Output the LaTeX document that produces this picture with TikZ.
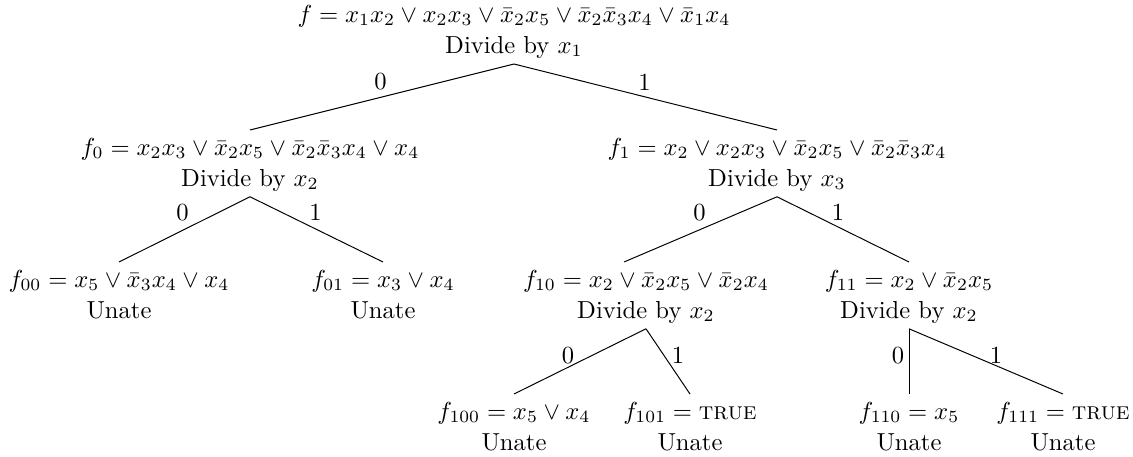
\documentclass[tikz,border=0pt]{standalone}
\usetikzlibrary{calc}
\newcommand{\topstrut}{\rule{0pt}{7.9pt}}
\begin{document}
\begin{tikzpicture}[x=0.4065pt,y=-0.4065pt,
  tn/.style={align=center, inner xsep=0pt, inner ysep=2.1pt, anchor=north},
  lbl/.style={inner sep=0pt, anchor=center},
  edge/.style={line width=0.4pt}]
\useasboundingbox (0,0) rectangle (1133,456);
% nodes
\node[tn, anchor=south] (root) at (514,64) {\topstrut$f = x_1x_2 \vee x_2x_3 \vee \bar{x}_2x_5 \vee \bar{x}_2\bar{x}_3x_4 \vee \bar{x}_1x_4$\\[0.6pt] Divide by $x_1$};
\node[tn] (f0) at (250,130) {\topstrut$f_0 = x_2x_3 \vee \bar{x}_2x_5 \vee \bar{x}_2\bar{x}_3x_4 \vee x_4$\\[0.6pt] Divide by $x_2$};
\node[tn] (f1) at (777,130) {\topstrut$f_1 = x_2 \vee x_2x_3 \vee \bar{x}_2x_5 \vee \bar{x}_2\bar{x}_3x_4$\\[0.6pt] Divide by $x_3$};
\node[tn] (f00) at (119,262) {\topstrut$f_{00} = x_5 \vee \bar{x}_3x_4 \vee x_4$\\[0.6pt] Unate};
\node[tn] (f01) at (383,262) {\topstrut$f_{01} = x_3 \vee x_4$\\[0.6pt] Unate};
\node[tn] (f10) at (646,262) {\topstrut$f_{10} = x_2 \vee \bar{x}_2x_5 \vee \bar{x}_2x_4$\\[0.6pt] Divide by $x_2$};
\node[tn] (f11) at (909,262) {\topstrut$f_{11} = x_2 \vee \bar{x}_2x_5$\\[0.6pt] Divide by $x_2$};
\node[tn] (f100) at (514,394) {\topstrut$f_{100} = x_5 \vee x_4$\\[0.6pt] Unate};
\node[tn] (f101) at (690,394) {\topstrut$f_{101} = \textsc{true}$\\[0.6pt] Unate};
\node[tn] (f110) at (909,394) {\topstrut$f_{110} = x_5$\\[0.6pt] Unate};
\node[tn] (f111) at (1063,394) {\topstrut$f_{111} = \textsc{true}$\\[0.6pt] Unate};
% connectors
\draw[edge] (root.south) -- node[lbl, shift={(-1.5,-15)}] (l1) {0} (f0.north);
\draw[edge] (root.south) -- node[lbl, shift={(-1,-15)}] (l2) {1} (f1.north);
\draw[edge] (f0.south) -- node[lbl, shift={(-2,-17)}] (l3) {0} (f00.north);
\draw[edge] (f0.south) -- node[lbl, shift={(-1,-17)}] (l4) {1} (f01.north);
\draw[edge] (f1.south) -- node[lbl, shift={(-1,-17)}] (l5) {0} ($(f10.north)+(-22,0)$);
\draw[edge] (f1.south) -- node[lbl, shift={(-5,-17)}] (l6) {1} (f11.north);
\draw[edge] (f10.south) -- node[lbl, shift={(-12,-6)}] (l7) {0} (f100.north);
\draw[edge] (f10.south) -- node[lbl, shift={(10,-6)}] (l8) {1} (f101.north);
\draw[edge] (f11.south) -- node[lbl, shift={(-11,-6)}] (l9) {0} (f110.north);
\draw[edge] (f11.south) -- node[lbl, shift={(10,-6)}] (l10) {1} (f111.north);
\end{tikzpicture}
\end{document}
